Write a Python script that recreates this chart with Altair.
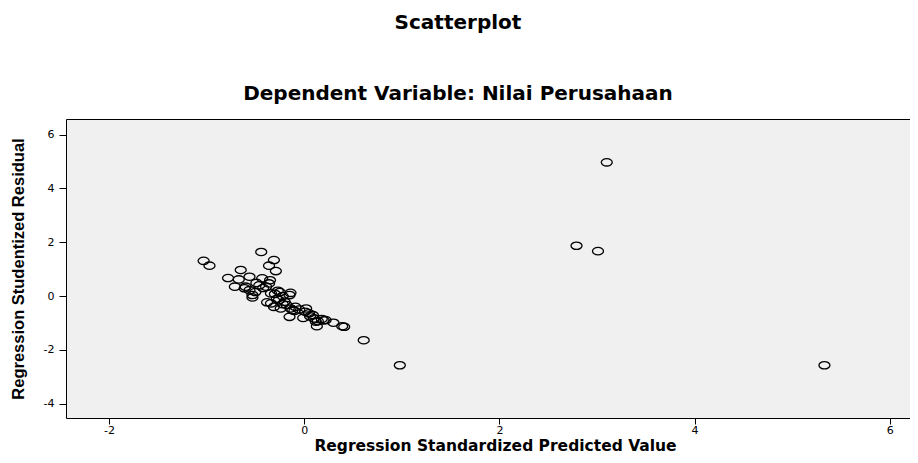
import altair as alt
import pandas as pd

# Regression standardized predicted value (x) and studentized residual (y)
pred = [
    3.10, 2.79, 3.01, 5.33, 0.98, 0.61,
    -1.03, -0.97, -0.44, -0.31, -0.36, -0.29, -0.65,
    -0.78, -0.67, -0.71, -0.56, -0.43, -0.35, -0.49, -0.60, -0.56, -0.53, -0.53,
    -0.61, -0.39, -0.36, -0.27, -0.34, -0.14, -0.15, -0.46, -0.50, -0.42, -0.30,
    -0.22, -0.25,
    -0.38, -0.34, -0.31, -0.24, -0.26, -0.20, -0.18, -0.14, -0.12, -0.15, -0.09,
    0.02, 0.01, 0.05, -0.01, 0.09, 0.10, 0.14, 0.13, 0.22, 0.30, 0.39, 0.41,
    -0.22, -0.10, 0.06, 0.18, -0.28, -0.05, 0.12, 0.20,
]
resid = [
    4.97, 1.87, 1.67, -2.57, -2.57, -1.64,
    1.31, 1.13, 1.64, 1.34, 1.13, 0.93, 0.97,
    0.67, 0.62, 0.35, 0.72, 0.66, 0.59, 0.49, 0.35, 0.22, 0.04, -0.05,
    0.29, 0.35, 0.47, 0.20, 0.10, 0.12, 0.04, 0.40, 0.15, 0.30, 0.08,
    0.00, 0.15,
    -0.23, -0.27, -0.40, -0.46, -0.15, -0.21, -0.33, -0.46, -0.52, -0.77, -0.40,
    -0.46, -0.58, -0.64, -0.81, -0.71, -0.83, -0.93, -1.12, -0.89, -0.99, -1.12, -1.14,
    -0.30, -0.55, -0.75, -0.85, -0.10, -0.50, -0.95, -0.90,
]

x_ticks = [-2, 0, 2, 4, 6]
y_ticks = [-4, -2, 0, 2, 4, 6]

df = pd.DataFrame({"pred": pred, "resid": resid})

ellipse = "M-1,0A1,0.667,0,1,0,1,0A1,0.667,0,1,0,-1,0Z"

x_scale = alt.Scale(domain=[-2.44, 6.35], nice=False, zero=False)
y_enc = alt.Y(
    "resid:Q",
    scale=alt.Scale(domain=[-4.53, 6.58], nice=False, zero=False),
    axis=alt.Axis(
        values=y_ticks,
        labelExpr="'' + datum.value",
        title="Regression Studentized Residual",
        titleFont="Liberation Sans",
        titleFontSize=16.5,
        titleFontWeight="bold",
        titleAngle=270,
        titleBaseline="middle",
        titleAlign="center",
        titleX=-48,
        titleY=149.5,
        tickSize=7,
        labelPadding=5,
    ),
)

points = (
    alt.Chart(df)
    .mark_point(
        shape=ellipse,
        size=121,
        filled=False,
        color="black",
        strokeWidth=1.3,
        opacity=1,
        clip=True,
    )
    .encode(
        x=alt.X(
            "pred:Q",
            scale=x_scale,
            axis=alt.Axis(
                values=x_ticks,
                labelExpr="'' + datum.value",
                title="Regression Standardized Predicted Value",
                titleFont="DejaVu Sans",
                titleFontSize=15.5,
                titleFontWeight="bold",
                titleBaseline="alphabetic",
                titleY=32,
                tickSize=6,
                labelPadding=0,
            ),
        ),
        y=y_enc,
    )
)

# invisible layer that only carries a top axis line (plot frame top edge)
frame_top = (
    alt.Chart(df)
    .mark_point(opacity=0)
    .encode(
        x=alt.X(
            "pred:Q",
            scale=x_scale,
            axis=alt.Axis(orient="top", labels=False, ticks=False, domain=True, title=""),
        ),
        y=y_enc,
    )
)

chart = (
    alt.layer(points, frame_top)
    .resolve_axis(x="independent")
    .properties(
        width=858,
        height=299,
        padding={"left": 58, "top": 111, "right": -14, "bottom": 37},
        autosize=alt.AutoSizeParams(type="none"),
        title=alt.TitleParams(
            text="Scatterplot",
            subtitle="Dependent Variable: Nilai Perusahaan",
            font="DejaVu Sans",
            fontSize=20,
            fontWeight="bold",
            color="black",
            subtitleFont="DejaVu Sans",
            subtitleFontSize=20,
            subtitleFontWeight="bold",
            subtitleColor="black",
            anchor="middle",
            frame="group",
            dx=-37,
            offset=15,
            subtitlePadding=51,
        ),
    )
    .configure_view(fill="#f0f0f0", stroke="transparent", strokeWidth=0)
    .configure_axis(
        grid=False,
        domainColor="black",
        domainWidth=1,
        tickColor="black",
        tickWidth=1,
        labelColor="black",
        labelFont="DejaVu Sans",
        labelFontSize=11,
        titleColor="black",
    )
)

chart.save("out.html", embed_options={"renderer": "svg", "actions": False})
